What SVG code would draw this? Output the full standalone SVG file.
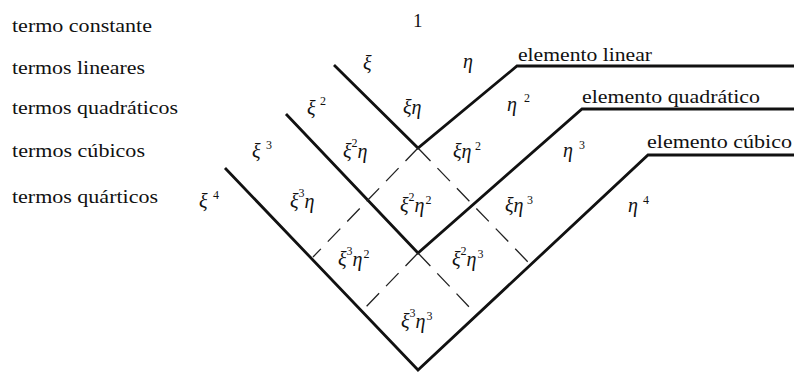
<svg xmlns="http://www.w3.org/2000/svg" width="794" height="372" viewBox="0 0 794 372">
<style>
.lbl{font-family:"Liberation Serif","Times New Roman",serif;font-size:19px;fill:#111}
.m{font-family:"Liberation Serif","Times New Roman",serif;font-style:italic;font-size:20px;fill:#111}
.s{font-family:"Liberation Serif","Times New Roman",serif;font-style:normal;font-size:12px}
.main{fill:none;stroke:#111;stroke-width:2.8;stroke-linejoin:miter}
.dash{fill:none;stroke:#222;stroke-width:1.3;stroke-dasharray:18 10}
</style>
<rect width="794" height="372" fill="#fff"/>
<g id="row-labels">
<text class="lbl" x="12" y="32" textLength="140" lengthAdjust="spacingAndGlyphs">termo constante</text>
<text class="lbl" x="12" y="74" textLength="133" lengthAdjust="spacingAndGlyphs">termos lineares</text>
<text class="lbl" x="12" y="114" textLength="166" lengthAdjust="spacingAndGlyphs">termos quadráticos</text>
<text class="lbl" x="12" y="157" textLength="133" lengthAdjust="spacingAndGlyphs">termos cúbicos</text>
<text class="lbl" x="12" y="203" textLength="146" lengthAdjust="spacingAndGlyphs">termos quárticos</text>
</g>
<g id="element-labels">
<text class="lbl" x="518" y="61" textLength="134" lengthAdjust="spacingAndGlyphs">elemento linear</text>
<text class="lbl" x="582" y="103" textLength="178" lengthAdjust="spacingAndGlyphs">elemento quadrático</text>
<text class="lbl" x="647" y="148" textLength="145" lengthAdjust="spacingAndGlyphs">elemento cúbico</text>
</g>
<g id="connectors">
<path class="main" d="M334,65 L418,148 L517,66 L794,66"/>
<path class="main" d="M286,114 L418,253 L582,109 L794,109"/>
<path class="main" d="M225,168 L418,370 L648,155 L794,155"/>
<path class="dash" d="M418,148 L313,257"/>
<path class="dash" d="M418,253 L363,310"/>
<path class="dash" d="M418,148 L528,262"/>
<path class="dash" d="M418,253 L472,310"/>
</g>
<g id="t-1"><text class="lbl" x="413" y="27">1</text></g>
<g id="t-xi"><text class="m" x="363" y="70">ξ</text></g>
<g id="t-eta"><text class="m" x="463" y="68">η</text></g>
<g id="t-xi2"><text class="m" x="307" y="115">ξ<tspan class="s" x="320" y="105">2</tspan></text></g>
<g id="t-xieta"><text class="m" x="403" y="114">ξη</text></g>
<g id="t-eta2"><text class="m" x="507" y="111">η<tspan class="s" x="524" y="102">2</tspan></text></g>
<g id="t-xi3"><text class="m" x="252" y="158">ξ<tspan class="s" x="266" y="149">3</tspan></text></g>
<g id="t-xi2eta"><text class="m" x="343" y="158">ξ<tspan class="s" dy="-11">2</tspan><tspan dy="11">η</tspan></text></g>
<g id="t-xieta2"><text class="m" x="453" y="158">ξη<tspan class="s" x="475" y="150">2</tspan></text></g>
<g id="t-eta3"><text class="m" x="563" y="157">η<tspan class="s" x="579" y="149">3</tspan></text></g>
<g id="t-xi4"><text class="m" x="199" y="208">ξ<tspan class="s" x="213" y="199">4</tspan></text></g>
<g id="t-xi3eta"><text class="m" x="290" y="208">ξ<tspan class="s" dy="-11">3</tspan><tspan dy="11">η</tspan></text></g>
<g id="t-xi2eta2"><text class="m" x="400" y="212">ξ<tspan class="s" dy="-11">2</tspan><tspan dy="11">η</tspan><tspan class="s" dx="1" dy="-8">2</tspan></text></g>
<g id="t-xieta3"><text class="m" x="505" y="212">ξη<tspan class="s" x="527" y="204">3</tspan></text></g>
<g id="t-eta4"><text class="m" x="628" y="212">η<tspan class="s" x="643" y="204">4</tspan></text></g>
<g id="t-xi3eta2"><text class="m" x="338" y="266">ξ<tspan class="s" dy="-11">3</tspan><tspan dy="11">η</tspan><tspan class="s" dx="1" dy="-8">2</tspan></text></g>
<g id="t-xi2eta3"><text class="m" x="452" y="266">ξ<tspan class="s" dy="-11">2</tspan><tspan dy="11">η</tspan><tspan class="s" dx="1" dy="-8">3</tspan></text></g>
<g id="t-xi3eta3"><text class="m" x="401" y="328">ξ<tspan class="s" dy="-11">3</tspan><tspan dy="11">η</tspan><tspan class="s" dx="1" dy="-8">3</tspan></text></g>
</svg>
